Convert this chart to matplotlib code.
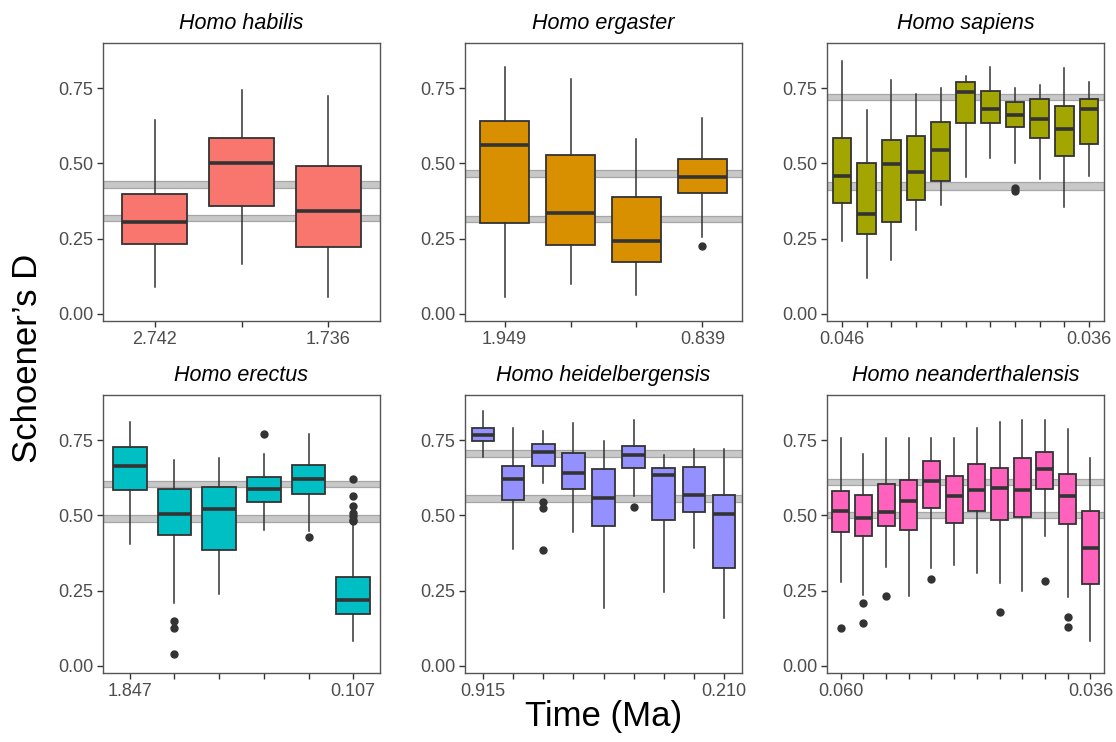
import matplotlib
matplotlib.use('Agg')
import matplotlib.pyplot as plt

plt.rcParams['font.family'] = ['Liberation Sans', 'DejaVu Sans']

# one panel per species: boxes as (whisker low, Q1, median, Q3, whisker high)
species = ['Homo habilis', 'Homo ergaster', 'Homo sapiens',
           'Homo erectus', 'Homo heidelbergensis', 'Homo neanderthalensis']
colores = ['#F8766D', '#D89000', '#A3A500', '#00BFC4', '#9590FF', '#FF62BC']

habilis_box = [(0.09, 0.234, 0.306, 0.40, 0.644),
               (0.166, 0.36, 0.503, 0.584, 0.743),
               (0.058, 0.223, 0.341, 0.491, 0.723)]
habilis_out = [[], [], []]

ergaster_box = [(0.057, 0.303, 0.561, 0.642, 0.819),
                (0.098, 0.23, 0.335, 0.529, 0.780),
                (0.062, 0.174, 0.241, 0.387, 0.582),
                (0.256, 0.402, 0.454, 0.515, 0.651)]
ergaster_out = [[], [], [], [0.225]]

sapiens_box = [(0.241, 0.37, 0.457, 0.583, 0.839),
               (0.118, 0.267, 0.332, 0.503, 0.678),
               (0.178, 0.304, 0.499, 0.577, 0.778),
               (0.279, 0.38, 0.473, 0.592, 0.731),
               (0.361, 0.442, 0.546, 0.639, 0.749),
               (0.455, 0.635, 0.737, 0.770, 0.792),
               (0.518, 0.635, 0.680, 0.740, 0.820),
               (0.501, 0.62, 0.66, 0.705, 0.75),
               (0.447, 0.584, 0.646, 0.713, 0.761),
               (0.354, 0.524, 0.616, 0.692, 0.817),
               (0.458, 0.564, 0.680, 0.713, 0.770)]
sapiens_out = [[], [], [], [], [], [], [], [0.408, 0.418], [], [], []]

erectus_box = [(0.406, 0.583, 0.663, 0.728, 0.809),
               (0.208, 0.435, 0.504, 0.588, 0.685),
               (0.24, 0.384, 0.52, 0.595, 0.690),
               (0.453, 0.544, 0.589, 0.628, 0.704),
               (0.447, 0.572, 0.622, 0.668, 0.770),
               (0.082, 0.174, 0.220, 0.296, 0.475)]
erectus_out = [[], [0.150, 0.125, 0.039], [], [0.771], [0.427],
               [0.622, 0.563, 0.533, 0.509, 0.497, 0.486, 0.481]]

heidel_box = [(0.695, 0.747, 0.767, 0.791, 0.846),
              (0.388, 0.551, 0.620, 0.663, 0.791),
              (0.608, 0.665, 0.710, 0.738, 0.780),
              (0.446, 0.589, 0.641, 0.707, 0.808),
              (0.193, 0.464, 0.557, 0.655, 0.747),
              (0.564, 0.658, 0.701, 0.732, 0.816),
              (0.245, 0.486, 0.634, 0.658, 0.702),
              (0.391, 0.512, 0.568, 0.660, 0.722),
              (0.160, 0.324, 0.504, 0.568, 0.722)]
heidel_out = [[], [], [0.546, 0.525, 0.384], [], [], [0.529], [], [], []]

neander_box = [(0.279, 0.446, 0.516, 0.580, 0.758),
               (0.235, 0.431, 0.493, 0.569, 0.704),
               (0.328, 0.465, 0.513, 0.603, 0.758),
               (0.233, 0.450, 0.549, 0.618, 0.758),
               (0.324, 0.525, 0.614, 0.680, 0.758),
               (0.336, 0.474, 0.563, 0.630, 0.758),
               (0.309, 0.516, 0.586, 0.670, 0.789),
               (0.275, 0.485, 0.591, 0.659, 0.810),
               (0.248, 0.495, 0.586, 0.692, 0.818),
               (0.433, 0.588, 0.654, 0.712, 0.816),
               (0.229, 0.470, 0.566, 0.637, 0.787),
               (0.082, 0.273, 0.392, 0.514, 0.692)]
neander_out = [[0.125], [0.208, 0.142], [0.234], [], [0.289], [], [], [0.178],
               [], [0.282], [0.162, 0.128], []]

# first and last time labels
rotulos = [('2.742', '1.736'), ('1.949', '0.839'), ('0.046', '0.036'),
           ('1.847', '0.107'), ('0.915', '0.210'), ('0.060', '0.036')]

# grey reference bands (low, high)
faixas = [[(0.419, 0.441), (0.308, 0.330)],
          [(0.455, 0.477), (0.304, 0.327)],
          [(0.710, 0.730), (0.413, 0.437)],
          [(0.594, 0.616), (0.478, 0.503)],
          [(0.695, 0.717), (0.545, 0.568)],
          [(0.600, 0.620), (0.493, 0.512)]]

caixas = [habilis_box, ergaster_box, sapiens_box, erectus_box, heidel_box, neander_box]
outliers = [habilis_out, ergaster_out, sapiens_out, erectus_out, heidel_out, neander_out]

W, H = 1116, 742
fig = plt.figure(figsize=(W / 100, H / 100), dpi=100)

lefts = [103, 465, 827]
tops = [43, 395]
aw, ah = 277, 278

for i in range(6):
    r, c = divmod(i, 3)
    ax = fig.add_axes([lefts[c] / W, 1 - (tops[r] + ah) / H, aw / W, ah / H])
    n = len(caixas[i])
    stats = []
    for k, (lo, q1, med, q3, hi) in enumerate(caixas[i]):
        stats.append({'whislo': lo, 'q1': q1, 'med': med, 'q3': q3, 'whishi': hi,
                      'fliers': outliers[i][k]})
    for lo, hi in faixas[i]:
        ax.axhspan(lo, hi, facecolor='#c8c8c8', edgecolor='#a6a6a6', lw=0.9, zorder=1)
    ax.bxp(stats, positions=range(1, n + 1), widths=0.75, patch_artist=True,
           showcaps=False,
           boxprops=dict(facecolor=colores[i], edgecolor='#333333', lw=1.3),
           medianprops=dict(color='#333333', lw=2.6),
           whiskerprops=dict(color='#333333', lw=1.1),
           flierprops=dict(marker='o', markerfacecolor='#333333', markeredgecolor='#333333',
                           markersize=5),
           zorder=3)
    ax.set_xlim(0.4, n + 0.6)
    ax.set_ylim(-0.0233, 0.90)
    ax.set_yticks([0, 0.25, 0.5, 0.75])
    ax.set_yticklabels(['0.00', '0.25', '0.50', '0.75'])
    ax.set_xticks(range(1, n + 1))
    labs = [''] * n
    labs[0], labs[-1] = rotulos[i]
    ax.set_xticklabels(labs)
    ax.tick_params(labelsize=13, labelcolor='#4d4d4d', color='#333333', length=4, width=1,
                   pad=3)
    for s in ax.spines.values():
        s.set_color('#555555')
        s.set_linewidth(1)
    ax.set_title(species[i], fontsize=15.5, style='italic', pad=10)

fig.text(0.025, 0.517, 'Schoener\u2019s D', rotation=90, fontsize=25, ha='center', va='center')
fig.text(603.5 / W, 0.035, 'Time (Ma)', fontsize=25, ha='center', va='center')

fig.savefig('out.png', dpi=100)
